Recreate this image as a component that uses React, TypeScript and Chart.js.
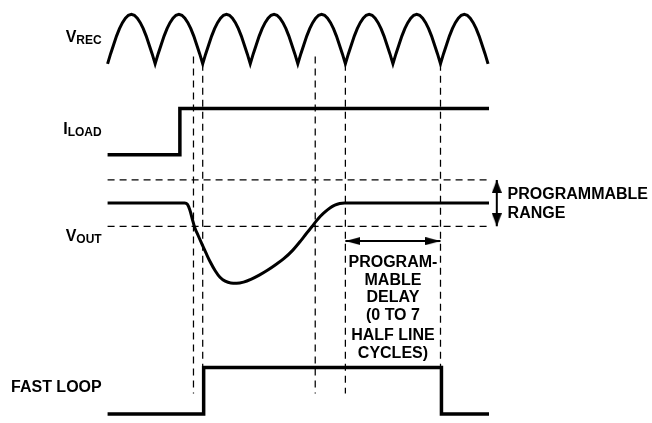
import { useEffect, useRef } from "react";
import { Chart, registerables } from "chart.js";

Chart.register(...registerables);

// ---- time axis: units of half line cycles (rectifier cusps at integers) ----
const HALF_LINE_CYCLES = 8;
const humpProfile = [0, 0.2, 0.38, 0.56, 0.71, 0.83, 0.92, 0.98, 1, 0.98, 0.92, 0.83, 0.71, 0.56, 0.38, 0.2, 0];
const loadStepTime = 1.52;
const fastLoopOnTime = 2.02;
const fastLoopOffTime = 7.02;
const traceEndTime = 8.02;

// V_OUT deviation from nominal, in units of the programmable range (band edge = ±1)
const voutTimes = [0, 1.62, 1.68, 1.73, 1.78, 1.83, 1.909, 1.989, 2.071, 2.154, 2.266, 2.363, 2.473, 2.59, 2.714, 2.859, 3.024, 3.189, 3.369, 3.54, 3.705, 3.891, 4.056, 4.18, 4.304, 4.386, 4.469, 4.572, 4.675, 4.778, 4.881, 4.985, 8.02];
const voutDeviation = [0, 0, -0.06, -0.3, -0.68, -1.04, -1.42, -1.79, -2.16, -2.52, -2.93, -3.2, -3.37, -3.45, -3.46, -3.41, -3.28, -3.11, -2.89, -2.65, -2.4, -2.04, -1.64, -1.31, -1.0, -0.78, -0.58, -0.38, -0.21, -0.09, -0.02, 0, 0];
const rangeLimits = [1, -1];

// vertical dashed markers
const markerTimes = [1.806, 2, 4.366, 5, 7];
const markerTopLevel = [0.15, 0, 0.15, 0, 0]; // in V_REC row units
const markerBottomLevel = [0.44, 1, 0.44, 0.44, 1]; // in FAST LOOP row units

const delayStartTime = 5;
const delayEndTime = 7;
const delayLevel = -1.64; // V_OUT units
const rangeArrowTime = 8.184;

// text
const signalLabels = [
  { main: "V", sub: "REC" },
  { main: "I", sub: "LOAD" },
  { main: "V", sub: "OUT" },
  { main: "FAST LOOP", sub: "" },
];
const signalLabelBaselines = [91.25, 68.79, 42.79, 6.15];
const signalLabelRightTime = -0.124;
const rangeTextLines = ["PROGRAMMABLE", "RANGE"];
const rangeTextBaselines = [52.96, 48.46];
const rangeTextTime = 8.411;
const delayTextLines = ["PROGRAM-", "MABLE", "DELAY", "(0 TO 7", "HALF LINE", "CYCLES)"];
const delayTextBaselines = [36.57, 32.22, 27.9, 23.52, 18.84, 14.42];
const delayTextTime = 6;

// ---- layout (value axis 0..100, rows stacked) ----
const X_MIN = -2.136;
const X_MAX = 11.321;
const Y_MIN = 0;
const Y_MAX = 100;
const ROW_VREC = { base: 85.93, scale: 12.06 };
const ROW_ILOAD = { base: 63.83, scale: 11.23 };
const ROW_VOUT = { base: 52.045, scale: 5.638 };
const ROW_FAST = { base: 0.71, scale: 11.35 };

const FAMILY = '"Liberation Sans", Arial, Helvetica, sans-serif';
const MAIN_SIZE = 16;
const SUB_SIZE = 12;

const lvl = (row: { base: number; scale: number }, v: number) => row.base + v * row.scale;

function makeArrowHead(len: number, halfW: number) {
  const c = document.createElement("canvas");
  c.width = len * 2;
  c.height = halfW * 2;
  const g = c.getContext("2d")!;
  g.fillStyle = "#000";
  g.beginPath();
  g.moveTo(len, halfW);
  g.lineTo(0, 0);
  g.lineTo(0, halfW * 2);
  g.closePath();
  g.fill();
  return c;
}

const textPlugin = {
  id: "diagramText",
  afterDatasetsDraw(chart: any) {
    const { ctx } = chart;
    const xs = chart.scales.x;
    const ys = chart.scales.y;
    ctx.save();
    ctx.fillStyle = "#000";
    ctx.textBaseline = "alphabetic";
    const mainFont = `bold ${MAIN_SIZE}px ${FAMILY}`;
    const subFont = `bold ${SUB_SIZE}px ${FAMILY}`;
    signalLabels.forEach((lab, i) => {
      const px = xs.getPixelForValue(signalLabelRightTime);
      const py = ys.getPixelForValue(signalLabelBaselines[i]);
      ctx.font = mainFont;
      const wMain = ctx.measureText(lab.main).width;
      ctx.font = subFont;
      const wSub = lab.sub ? ctx.measureText(lab.sub).width : 0;
      const left = px - wMain - wSub;
      ctx.textAlign = "left";
      ctx.font = mainFont;
      ctx.fillText(lab.main, left, py);
      if (lab.sub) {
        ctx.font = subFont;
        ctx.fillText(lab.sub, left + wMain, py + 2);
      }
    });
    ctx.font = mainFont;
    ctx.textAlign = "left";
    rangeTextLines.forEach((t, i) => {
      ctx.fillText(t, xs.getPixelForValue(rangeTextTime), ys.getPixelForValue(rangeTextBaselines[i]));
    });
    ctx.textAlign = "center";
    delayTextLines.forEach((t, i) => {
      ctx.fillText(t, xs.getPixelForValue(delayTextTime), ys.getPixelForValue(delayTextBaselines[i]));
    });
    ctx.restore();
  },
};

export default function App() {
  const ref = useRef<HTMLCanvasElement>(null);
  useEffect(() => {
    document.body.style.margin = "0";
    const headDelay = makeArrowHead(15, 4);
    const headRange = makeArrowHead(13, 5);

    const vrec: { x: number; y: number }[] = [];
    for (let k = 0; k < HALF_LINE_CYCLES; k++) {
      const n = humpProfile.length - 1;
      for (let j = k === 0 ? 0 : 1; j <= n; j++) {
        vrec.push({ x: k + j / n, y: lvl(ROW_VREC, humpProfile[j]) });
      }
    }
    const iload = [
      { x: 0, y: lvl(ROW_ILOAD, 0) },
      { x: loadStepTime, y: lvl(ROW_ILOAD, 1) },
      { x: traceEndTime, y: lvl(ROW_ILOAD, 1) },
    ];
    const vout = voutTimes.map((t, i) => ({ x: t, y: lvl(ROW_VOUT, voutDeviation[i]) }));
    const fast = [
      { x: 0, y: lvl(ROW_FAST, 0) },
      { x: fastLoopOnTime, y: lvl(ROW_FAST, 1) },
      { x: fastLoopOffTime, y: lvl(ROW_FAST, 0) },
      { x: traceEndTime, y: lvl(ROW_FAST, 0) },
    ];

    const solid = (data: any[], extra: any = {}) => ({
      data,
      showLine: true,
      borderColor: "#000",
      borderWidth: 3,
      pointRadius: 0,
      borderCapStyle: "butt",
      borderJoinStyle: "miter",
      tension: 0,
      order: 0,
      ...extra,
    });
    const dashed = (data: any[]) => ({
      data,
      showLine: true,
      borderColor: "#000",
      borderWidth: 1.25,
      borderDash: [7, 5],
      pointRadius: 0,
      tension: 0,
      order: 2,
    });

    const datasets: any[] = [
      solid(vrec),
      solid(iload, { stepped: true, borderWidth: 3.5 }),
      solid(vout, { cubicInterpolationMode: "monotone" }),
      solid(fast, { stepped: true, borderWidth: 3.5 }),
      {
        data: [
          { x: delayStartTime, y: lvl(ROW_VOUT, delayLevel) },
          { x: delayEndTime, y: lvl(ROW_VOUT, delayLevel) },
        ],
        showLine: true,
        borderColor: "#000",
        borderWidth: 2,
        pointRadius: 1,
        pointStyle: headDelay,
        pointRotation: [180, 0],
        order: 1,
      },
      {
        data: [
          { x: rangeArrowTime, y: lvl(ROW_VOUT, rangeLimits[0]) },
          { x: rangeArrowTime, y: lvl(ROW_VOUT, rangeLimits[1]) },
        ],
        showLine: true,
        borderColor: "#000",
        borderWidth: 2,
        pointRadius: 1,
        pointStyle: headRange,
        pointRotation: [-90, 90],
        order: 1,
      },
      ...rangeLimits.map((r) =>
        dashed([
          { x: 0, y: lvl(ROW_VOUT, r) },
          { x: traceEndTime, y: lvl(ROW_VOUT, r) },
        ])
      ),
      ...markerTimes.map((t, i) =>
        dashed([
          { x: t, y: lvl(ROW_VREC, markerTopLevel[i]) },
          { x: t, y: lvl(ROW_FAST, markerBottomLevel[i]) },
        ])
      ),
    ];

    const chart = new Chart(ref.current!, {
      type: "scatter",
      data: { datasets },
      options: {
        animation: false,
        responsive: false,
        events: [],
        layout: { padding: 0 },
        plugins: { legend: { display: false }, tooltip: { enabled: false } },
        scales: {
          x: { type: "linear", min: X_MIN, max: X_MAX, display: false },
          y: { type: "linear", min: Y_MIN, max: Y_MAX, display: false },
        },
      },
      plugins: [textPlugin],
    } as any);
    return () => chart.destroy();
  }, []);
  return (
    <canvas
      ref={ref}
      width={652}
      height={423}
      style={{ position: "fixed", left: 0, top: 0, display: "block", background: "#fff" }}
    />
  );
}
